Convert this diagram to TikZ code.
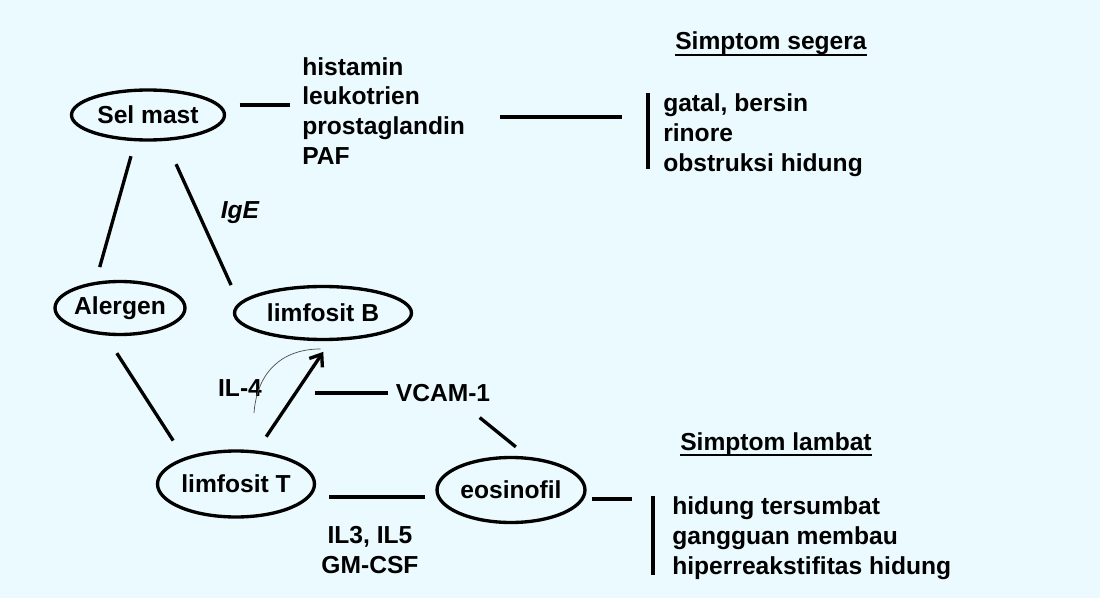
\documentclass[tikz,border=0pt]{standalone}
\usepackage{fontspec}
\setmainfont{Liberation Sans}
\usetikzlibrary{shapes,arrows.meta,positioning}
\definecolor{scanbg}{RGB}{235,250,254}

\begin{document}
\begin{tikzpicture}[
    x=0.02cm, y=-0.02cm,
    font=\fontsize{14}{17}\selectfont\bfseries,
    cell/.style={
        ellipse,
        draw=black,
        line width=1.9pt,
        inner sep=0pt,
        align=center
    },
    txt/.style={
        inner sep=0pt,
        align=left
    },
    list/.style={
        inner xsep=8.5pt,
        inner ysep=0pt,
        align=left
    },
    heading/.style={
        inner sep=0pt,
        anchor=base
    },
    link/.style={
        line width=1.9pt
    },
    bar/.style={
        line width=2.2pt
    },
    underrule/.style={
        line width=1.1pt
    },
    arrow/.style={
        -{Straight Barb[length=6pt,width=9pt,line width=1.9pt]},
        line width=1.9pt
    },
    faint/.style={
        line width=0.4pt,
        draw=black!70
    }
]

% Page
\fill[scanbg] (0,0) rectangle (1100,598);
\useasboundingbox (0,0) rectangle (1100,598);

% Cells
\node[cell, minimum width=3.06cm, minimum height=1.0cm] (selmast) at (148,115) {Sel mast};
\node[cell, minimum width=2.6cm, minimum height=1.06cm] (alergen) at (120,308) {Alergen};
\node[cell, minimum width=3.54cm, minimum height=1.06cm] (limfB) at (323,313) {limfosit B};
\node[cell, minimum width=3.14cm, minimum height=1.32cm] (limfT) at (236,484) {limfosit T};
\node[cell, minimum width=2.96cm, minimum height=1.3cm] (eosinofil) at (511,490) {eosinofil};

% Mediators and cytokines
\node[txt, anchor=west] (mediators) at (302,111) {histamin\\leukotrien\\prostaglandin\\PAF};
\node[txt] (ige) at (240,213) {\itshape IgE};
\node[txt] (il4) at (240,388) {IL-4};
\node[txt] (vcam) at (443,393) {VCAM-1};
\node[txt, align=center] (ilgm) at (370,550) {IL3, IL5\\GM-CSF};

% Symptoms
\node[heading] (segerahead) at (771,50) {Simptom segera};
\node[list, anchor=west] (segera) at (648,135) {gatal, bersin\\rinore\\obstruksi hidung};
\node[heading] (lambathead) at (776,450) {Simptom lambat};
\node[list, anchor=west, inner xsep=10.8pt] (lambat) at (653,538) {hidung tersumbat\\gangguan membau\\hiperreakstifitas hidung};

% Underlines
\draw[underrule] ([yshift=-2.6pt]segerahead.base west) -- ([yshift=-2.6pt]segerahead.base east);
\draw[underrule] ([yshift=-2.6pt]lambathead.base west) -- ([yshift=-2.6pt]lambathead.base east);

% Connections
\draw[link, shorten <=11pt, shorten >=7pt] (selmast.8) -- (selmast.8 -| mediators.west);
\draw[link, shorten <=20pt, shorten >=14.7pt] ([yshift=-3.4pt]mediators.east) -- ([yshift=-3.4pt]mediators.east -| segera.west);
\draw[link, shorten <=8.8pt, shorten >=8.7pt] (selmast.244) -- (alergen.133);
\draw[link, shorten <=14.5pt, shorten >=11pt] (selmast.304) -- (limfB.173);
\draw[link, shorten <=12pt, shorten >=11.5pt] (alergen.242) -- (limfT.153);
\draw[arrow, shorten <=9.5pt, shorten >=7.4pt] (limfT.58) -- (limfB.285);

% IL-4 stroke
\coordinate (iltick) at (254,413);
\draw[faint] (iltick) .. controls (257,372) and (282,349) .. ([shift={(-5.7pt,-4.5pt)}]limfB.285);

% VCAM-1
\coordinate (vcamend) at (315,393);
\draw[link, shorten >=4pt] (vcamend) -- (vcam.west);
\draw[link, shorten <=14pt, shorten >=8.9pt] ([xshift=10pt]vcam.south) -- (eosinofil.63);

% Eosinofil
\draw[link, shorten <=10.8pt, shorten >=5.7pt] (limfT.-10) -- (limfT.-10 -| eosinofil.west);
\draw[link, shorten <=4.5pt, shorten >=12pt] (eosinofil.-7) -- (eosinofil.-7 -| lambat.west);

% Brackets
\draw[bar] (segera.north west) -- ([yshift=4.5pt]segera.south west);
\draw[bar] (lambat.north west) -- ([yshift=2.5pt]lambat.south west);

\end{tikzpicture}
\end{document}
